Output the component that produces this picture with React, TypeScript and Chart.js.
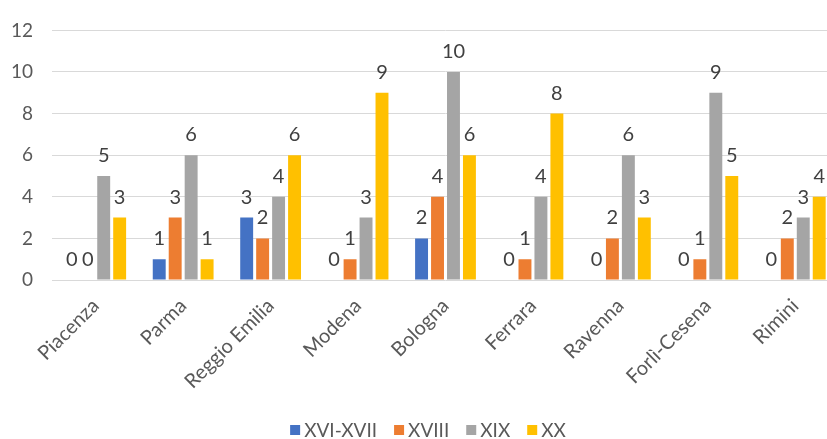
import React, { useEffect, useRef } from "react";
import { Chart, registerables } from "chart.js";

Chart.register(...registerables);

const categories = ["Piacenza", "Parma", "Reggio Emilia", "Modena", "Bologna", "Ferrara", "Ravenna", "Forlì-Cesena", "Rimini"];
const seriesNames = ["XVI-XVII", "XVIII", "XIX", "XX"];
const xviXvii = [0, 1, 3, 0, 2, 0, 0, 0, 0];
const xviii = [0, 3, 2, 1, 4, 1, 2, 1, 2];
const xix = [5, 6, 4, 3, 10, 4, 6, 9, 3];
const xx = [3, 1, 6, 9, 6, 8, 3, 5, 4];
const yTicks = [0, 2, 4, 6, 8, 10, 12];
const colors = ["#4472C4", "#ED7D31", "#A5A5A5", "#FFC000"];

const FONT = "Lato, 'Open Sans', sans-serif";
const CANVAS_W = 842;
const CANVAS_H = 439;

const labelPlugin = {
  id: "barLabels",
  afterDatasetsDraw(chart: any) {
    const ctx = chart.ctx;
    ctx.save();
    ctx.font = `20px ${FONT}`;
    ctx.fillStyle = "#404040";
    ctx.textAlign = "center";
    ctx.textBaseline = "alphabetic";
    chart.data.datasets.forEach((ds: any, i: number) => {
      const meta = chart.getDatasetMeta(i);
      meta.data.forEach((el: any, j: number) => {
        ctx.fillText(String(ds.data[j]), el.x, el.y - 14);
      });
    });
    ctx.restore();
  },
};

const legendPlugin = {
  id: "customLegend",
  afterDraw(chart: any) {
    const ctx = chart.ctx;
    ctx.save();
    ctx.font = `19px ${FONT}`;
    ctx.textBaseline = "middle";
    ctx.textAlign = "left";
    const box = 10;
    const gap = 4;
    const spacing = 17;
    const items = chart.data.datasets.map((ds: any) => ({
      text: ds.label,
      color: ds.backgroundColor,
      w: ctx.measureText(ds.label).width,
    }));
    const total = items.reduce((s: number, it: any) => s + box + gap + it.w, 0) + spacing * (items.length - 1);
    const cx = 428;
    let x = cx - total / 2;
    const y = 430;
    items.forEach((it: any) => {
      ctx.fillStyle = it.color;
      ctx.fillRect(x, y - box / 2, box, box);
      x += box + gap;
      ctx.fillStyle = "#595959";
      ctx.fillText(it.text, x, y + 1);
      x += it.w + spacing;
    });
    ctx.restore();
  },
};

export default function App() {
  const ref = useRef<HTMLCanvasElement>(null);
  useEffect(() => {
    if (!ref.current) return;
    const seriesData = [xviXvii, xviii, xix, xx];
    const chart = new Chart(ref.current, {
      type: "bar",
      data: {
        labels: categories,
        datasets: seriesNames.map((name, i) => ({
          label: name,
          data: seriesData[i],
          backgroundColor: colors[i],
          borderWidth: 0,
          categoryPercentage: 0.73,
          barPercentage: 0.81,
        })),
      },
      options: {
        animation: false,
        responsive: false,
        maintainAspectRatio: false,
        layout: { autoPadding: false, padding: { top: 26, right: 3, left: 12, bottom: 29 } },
        plugins: {
          legend: { display: false },
          tooltip: { enabled: false },
        },
        scales: {
          x: {
            grid: { display: false },
            border: { display: false },
            afterFit: (axis: any) => {
              axis.height = 130;
            },
            ticks: {
              color: "#595959",
              font: { family: FONT, size: 20 },
              minRotation: 45,
              maxRotation: 45,
              padding: 6,
            },
          },
          y: {
            min: 0,
            max: 12,
            afterBuildTicks: (axis: any) => {
              axis.ticks = yTicks.map((v) => ({ value: v }));
            },
            afterFit: (axis: any) => {
              axis.width = 40;
            },
            grid: { color: "#D9D9D9", lineWidth: 1, drawTicks: false },
            border: { display: false },
            ticks: {
              color: "#595959",
              font: { family: FONT, size: 19 },
              padding: 19,
            },
          },
        },
      },
      plugins: [labelPlugin, legendPlugin],
    });
    return () => chart.destroy();
  }, []);
  return (
    <div style={{ position: "absolute", left: 0, top: 0, width: 827, height: 439, overflow: "hidden", background: "#fff" }}>
      <canvas ref={ref} width={CANVAS_W} height={CANVAS_H} style={{ width: CANVAS_W, height: CANVAS_H }} />
    </div>
  );
}
